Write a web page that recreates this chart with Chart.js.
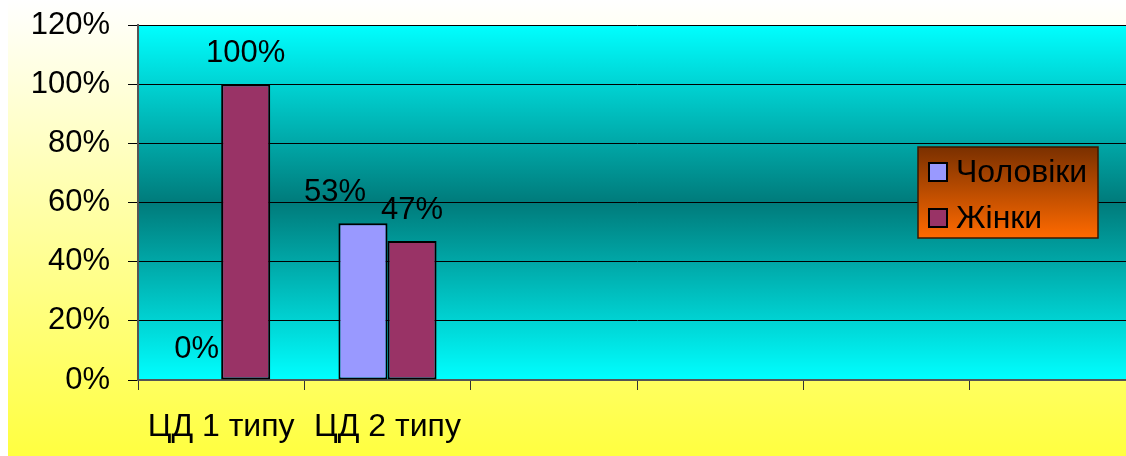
<!DOCTYPE html>
<html>
<head>
<meta charset="utf-8">
<script src="https://cdn.jsdelivr.net/npm/chart.js@4/dist/chart.umd.min.js"></script>
<style>
  html, body { margin: 0; padding: 0; background: #fff; overflow: hidden; }
  #wrap { width: 1136px; height: 456px; position: relative; }
</style>
</head>
<body>
<div id="wrap"><canvas id="chart"></canvas></div>
<script>
var categories = ['ЦД 1 типу', 'ЦД 2 типу', '', '', '', ''];
var men = [0, 53, null, null, null, null];
var women = [100, 47, null, null, null, null];
var seriesNames = ['Чоловіки', 'Жінки'];
var yTicks = [0, 20, 40, 60, 80, 100, 120];

var FONT = '"Liberation Sans", Arial, sans-serif';

// backgrounds: yellow page, cyan-teal plot
var bgPlugin = {
    id: 'bg',
    beforeDraw: function(chart) {
        var ctx = chart.ctx, a = chart.chartArea;
        ctx.save();
        var g = ctx.createLinearGradient(0, 0, 0, chart.height);
        g.addColorStop(0, '#ffffff');
        g.addColorStop(1, '#ffff40');
        ctx.fillStyle = g;
        ctx.fillRect(8, 0, chart.width - 8, chart.height);
        var p = ctx.createLinearGradient(0, a.top, 0, a.bottom);
        p.addColorStop(0, '#00ffff');
        p.addColorStop(0.5, '#007b7b');
        p.addColorStop(1, '#00ffff');
        ctx.fillStyle = p;
        ctx.fillRect(a.left, a.top, a.right - a.left, a.bottom - a.top);
        ctx.restore();
    }
};

// value labels above bars
var labelPlugin = {
    id: 'vlabels',
    afterDatasetsDraw: function(chart) {
        var ctx = chart.ctx;
        ctx.save();
        ctx.font = '31px ' + FONT;
        ctx.fillStyle = '#000';
        ctx.textAlign = 'center';
        ctx.textBaseline = 'middle';
        chart.data.datasets.forEach(function(ds, di) {
            var meta = chart.getDatasetMeta(di);
            meta.data.forEach(function(bar, i) {
                var v = ds.data[i];
                if (v === null || v === undefined) return;
                var dx = (di === 0 && i === 1) ? -28 : 0;
                ctx.fillText(v + '%', bar.x + dx, bar.y - 31);
            });
        });
        ctx.restore();
    }
};

// legend box with orange gradient
var legendPlugin = {
    id: 'boxLegend',
    afterDraw: function(chart) {
        var ctx = chart.ctx;
        var x = 918, y = 147, w = 180, h = 91;
        ctx.save();
        var g = ctx.createLinearGradient(0, y, 0, y + h);
        g.addColorStop(0, '#7a3000');
        g.addColorStop(1, '#ff6a00');
        ctx.fillStyle = g;
        ctx.fillRect(x, y, w, h);
        ctx.strokeStyle = '#3a1800';
        ctx.lineWidth = 1.5;
        ctx.strokeRect(x, y, w, h);
        ctx.font = '32px ' + FONT;
        ctx.textBaseline = 'middle';
        chart.data.datasets.forEach(function(ds, i) {
            var cy = y + 25 + i * 46;
            ctx.fillStyle = ds.backgroundColor;
            ctx.fillRect(x + 11, cy - 9, 18, 18);
            ctx.strokeStyle = '#000';
            ctx.lineWidth = 2;
            ctx.strokeRect(x + 11, cy - 9, 18, 18);
            ctx.fillStyle = '#000';
            ctx.fillText(ds.label, x + 38, cy + 1);
        });
        ctx.restore();
    }
};

var ctx = document.getElementById('chart');
new Chart(ctx, {
    type: 'bar',
    data: {
        labels: categories,
        datasets: [{
            label: seriesNames[0],
            data: men,
            backgroundColor: '#9999ff',
            borderColor: '#000',
            borderWidth: 2,
            borderSkipped: false
        }, {
            label: seriesNames[1],
            data: women,
            backgroundColor: '#993366',
            borderColor: '#000',
            borderWidth: 2,
            borderSkipped: false
        }]
    },
    options: {
        responsive: true,
        maintainAspectRatio: false,
        animation: false,
        categoryPercentage: 0.59,
        barPercentage: 1,
        layout: { padding: { left: 0, top: 25, right: 0, bottom: 0 } },
        plugins: {
            legend: { display: false },
            tooltip: { enabled: false }
        },
        scales: {
            x: {
                grid: { display: true, drawOnChartArea: false, color: '#333', tickLength: 10, offset: true },
                border: { color: '#555', width: 2 },
                ticks: { color: '#000', font: { family: FONT, size: 32 }, padding: 18, maxRotation: 0, autoSkip: false },
                afterFit: function(s) { s.height = 76; s.paddingLeft = 0; s.paddingRight = 0; }
            },
            y: {
                min: 0,
                max: 120,
                afterBuildTicks: function(axis) {
                    axis.ticks = yTicks.map(function(v) { return { value: v }; });
                },
                grid: { color: '#000', tickLength: 10 },
                border: { color: '#555', width: 2 },
                ticks: {
                    color: '#000',
                    font: { family: FONT, size: 31 },
                    padding: 18,
                    callback: function(v) { return v + '%'; }
                },
                afterFit: function(s) { s.width = 138; s.paddingTop = 0; s.paddingBottom = 0; }
            }
        }
    },
    plugins: [bgPlugin, labelPlugin, legendPlugin]
});
</script>
</body>
</html>
